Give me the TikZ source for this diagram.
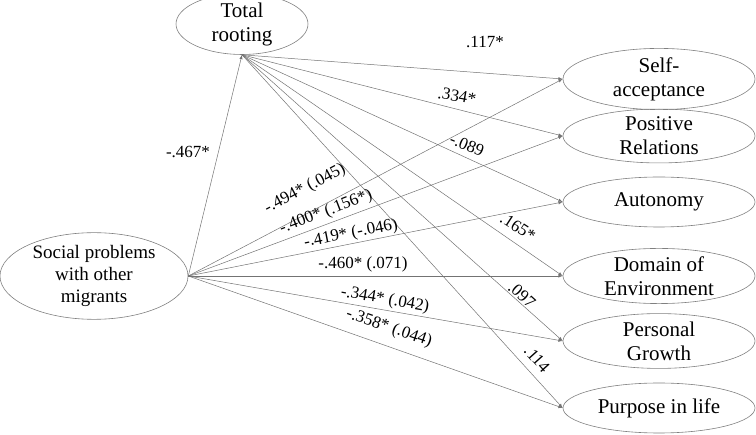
\documentclass[tikz,border=0pt]{standalone}
\usepackage{fontspec}
\setmainfont{Liberation Serif}
\newfontfamily\timesfont{Liberation Serif}
\usepackage{tikz}
\usetikzlibrary{positioning,shapes}

\tikzset{
    factor/.style={ellipse,draw=gray,line width=0.6pt,align=center,inner sep=0pt,
        font=\timesfont\fontsize{21}{24}\selectfont},
    path/.style={gray!90!black,line width=0.5pt,-latex},
    coef/.style={font=\timesfont\fontsize{17}{19}\selectfont,inner sep=1pt}
}

\begin{document}
\begin{tikzpicture}[x=1pt,y=-1pt]
\useasboundingbox (0,0) rectangle (756,435);

\node[factor,minimum width=132,minimum height=46] (rooting) at (242,24) {Total\\rooting};
\node[factor,minimum width=188,minimum height=72,font=\timesfont\fontsize{19}{22}\selectfont]
    (social) at (94,276) {Social problems\\with other\\migrants};

\foreach \y/\name/\txt in {79/self/{Self-\\acceptance}, 136/relations/{Positive\\Relations},
    202/autonomy/{Autonomy}, 276/environment/{Domain of\\Environment},
    341/growth/{Personal\\Growth}, 408/purpose/{Purpose in life}} {
    \node[factor,minimum width=192,minimum height=50] (\name) at (659,\y) {\txt};
}

\draw[path] (social.east) -- (rooting.south);
\foreach \name in {self,relations,autonomy,environment,growth,purpose} {
    \draw[path] (rooting.south) -- (\name.west);
    \draw[path] (social.east) -- (\name.west);
}

% coefficients
\node[coef] (c0) at (188,152) {-.467*};
\foreach \n/\x/\y/\ang/\txt in {1/485/42/0/.117*, 2/457/96/-10/.334*, 3/467/145/-22/-.089,
    4/518/227/-33/.165*, 5/522/295/-42/.097, 6/537/359/-48/.114} {
    \node[coef,rotate=\ang] (r\n) at (\x,\y) {\txt};
}
\foreach \n/\x/\y/\ang/\txt in {1/305/189/28/{-.494* (.045)}, 2/326/212/21/{-.400* (.156*)},
    3/351/234/11/{-.419* (-.046)}, 4/363/264/0/{-.460* (.071)},
    5/385/300/-10/{-.344* (.042)}, 6/389/328/-19/{-.358* (.044)}} {
    \node[coef,rotate=\ang] (s\n) at (\x,\y) {\txt};
}
\end{tikzpicture}
\end{document}
